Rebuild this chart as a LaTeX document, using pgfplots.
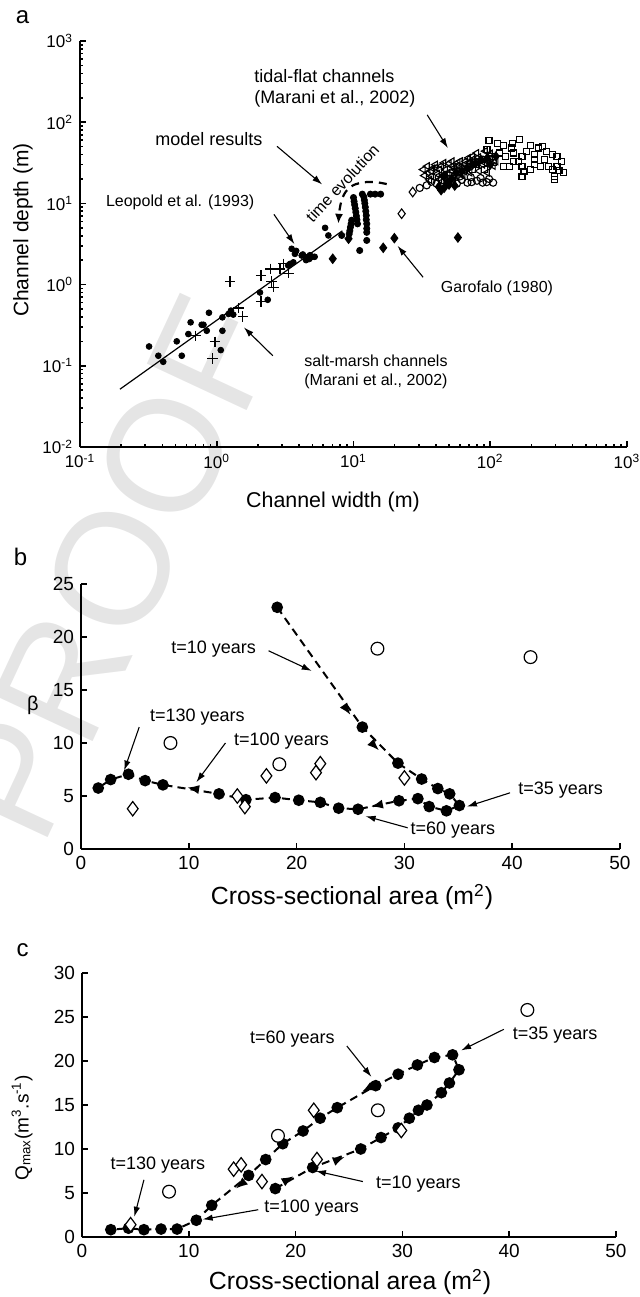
\documentclass[border=0pt]{standalone}
\usepackage{fontspec}
\setmainfont{Liberation Sans}
\usepackage{pgfplots}
\pgfplotsset{compat=1.18}
\usetikzlibrary{arrows.meta}

\newcommand{\fs}[1]{\fontsize{#1}{#1}\selectfont}

\pgfplotsset{
  panel/.style={
    scale only axis, anchor=south west, clip=false,
    axis x line*=bottom, axis y line*=left,
    axis line style={line width=1.1pt,-},
    tick align=inside,
    major tick length=3pt, minor tick length=1.6pt,
    every tick/.style={black, line width=0.8pt},
    /pgf/number format/assume math mode=true,
  },
  model/.style={black, line width=1pt, dash pattern=on 4pt off 2.6pt,
    mark=*, mark size=2.4pt, mark options={solid, fill=black}},
  field circ/.style={only marks, mark=*, mark size=3.2pt,
    mark options={fill=white, draw=black, line width=0.6pt}},
  field diam/.style={only marks, mark=diamond*, mark size=3.6pt,
    mark options={fill=white, draw=black, line width=0.6pt}},
}
\tikzset{
  flow/.style={-{Latex[length=6pt,width=4.6pt]}, black, line width=1pt},
  note/.style={-{Latex[length=5pt,width=3.2pt]}, black, line width=0.55pt},
}

\begin{document}
\begin{tikzpicture}
\path[use as bounding box] (0,0) rectangle (319.5pt,648.5pt);

% background watermark
\node[rotate=65, anchor=east, inner sep=0pt, text=black!10,
      font=\fontsize{80}{80}\selectfont] at (116.4pt,493.2pt) {PROOF};

% ---------------- panel a ----------------
\begin{axis}[panel, at={(40pt,425pt)}, width=273.5pt, height=203pt,
  xmode=log, ymode=log, xmin=0.1, xmax=1000, ymin=0.01, ymax=1000,
  xtick={0.1,1,10,100,1000}, ytick={0.01,0.1,1,10,100,1000},
  minor xtick={0.2,0.3,0.4,0.5,0.6,0.7,0.8,0.9,2,3,4,5,6,7,8,9,20,30,40,50,60,70,80,90,200,300,400,500,600,700,800,900},
  minor ytick={0.02,0.03,0.04,0.05,0.06,0.07,0.08,0.09,0.2,0.3,0.4,0.5,0.6,0.7,0.8,0.9,2,3,4,5,6,7,8,9,20,30,40,50,60,70,80,90,200,300,400,500,600,700,800,900},
  xticklabels={10\textsuperscript{-1},10\textsuperscript{0},10\textsuperscript{1},10\textsuperscript{2},10\textsuperscript{3}},
  yticklabels={10\textsuperscript{-2},10\textsuperscript{-1},10\textsuperscript{0},10\textsuperscript{1},10\textsuperscript{2},10\textsuperscript{3}},
  tick label style={font=\fs{8.5}},
]
% regression line
\addplot[black, line width=0.6pt] coordinates {(0.196,0.0515) (8.3,4.6)};

% Leopold et al. (1993)
\addplot[only marks, mark=*, mark size=1.45pt] coordinates {
 (0.32,0.173) (0.374,0.133) (0.406,0.112) (0.51,0.20) (0.555,0.133)
 (0.62,0.246) (0.644,0.343) (0.776,0.32) (0.80,0.32) (0.845,0.27)
 (0.877,0.45) (1.10,0.27) (1.10,0.395) (1.07,0.156) (1.22,0.435)
 (1.27,0.478) (1.32,0.427) (2.07,0.80) (2.36,0.65) (3.33,1.72)
 (3.63,1.88) (3.53,2.76) (3.73,2.39) (3.44,1.80) (4.18,2.28)
 (4.55,2.17) (4.75,2.07) (3.81,2.6) (4.26,2.35) (4.5,2.0)
 (4.8,2.3) (5.0,2.2) (5.2,2.2) (6.2,5.0) (6.55,4.03)};

% salt-marsh channels
\addplot[only marks, mark=+, mark size=2.6pt, mark options={line width=0.6pt}] coordinates {
 (1.25,1.09) (0.97,0.198) (0.93,0.123) (0.70,0.234) (1.44,0.515)
 (1.55,0.406) (2.11,1.29) (2.11,0.62) (2.48,1.56) (2.52,1.09)
 (2.60,0.93) (2.90,1.56) (3.07,1.80) (3.34,1.38)};

% model results
\addplot[only marks, mark=*, mark size=1.55pt] coordinates {
 (8.2,4.03)
 (9.3,4.2) (9.4,4.6) (9.5,5.1) (9.6,5.6) (9.7,6.2)
 (10.0,11.8) (10.1,10.6) (10.2,9.6) (10.3,8.7) (10.4,7.8) (10.5,7.0) (10.6,6.3) (10.7,5.6)
 (11.6,13.0) (11.9,12.0) (12.0,11.0) (12.1,10.0) (12.2,9.0) (12.3,8.0)
 (12.4,7.1) (12.4,6.3) (12.5,5.6) (12.5,4.9) (12.5,4.4)
 (13.3,13.0) (14.4,13.0) (15.8,13.0)
 (12.5,3.5) (11.1,2.63)};

% Garofalo (1980)
\addplot[only marks, mark=diamond*, mark size=2.4pt] coordinates {
 (7.05,2.08) (9.2,3.67) (16.5,2.84) (19.9,3.73) (58,3.8)};
\addplot[only marks, mark=diamond, mark size=2.4pt, mark options={line width=0.55pt}] coordinates {
 (27.1,13.8) (22.5,7.46)};

% tidal-flat channels
\addplot[only marks, mark=square, mark size=1.5pt, mark options={line width=0.55pt}] coordinates {
 (97.9,59.6) (112.5,55.3) (124.7,51.8) (146.5,55.3) (164.8,60.8)
 (143.5,48.1) (195.9,51.8) (224.9,48.1) (241.5,50.4) (209.9,39.8)
 (258.8,43.7) (287.1,39.8) (307.6,38.0) (329.6,33.0) (307.6,28.7)
 (287.1,26.1) (318.4,25.6) (341.2,23.8) (297.2,21.6) (297.2,19.7)
 (209.9,34.6) (209.9,30.0) (170.6,28.7) (176.6,24.9) (170.6,21.6)
 (148.6,33.0) (138.6,28.7) (129.1,38.0) (116.4,41.7) (101.4,38.0)
 (94.6,45.8) (88.3,34.6) (79.6,30.0) (74.2,26.1) (124.7,28.7)
 (195.9,26.1) (232.8,28.7) (267.9,28.7) (105.0,31.5) (91.4,26.1)
 (170.6,38.0) (148.6,41.7) (185,44) (250,35) (160,33)};
\addplot[only marks, mark=triangle, mark size=2pt, mark options={rotate=90, line width=0.55pt}] coordinates {
 (32.3,26.1) (34.6,28.7) (37.1,24.9) (39.7,30.0) (42.6,26.1)
 (45.7,31.5) (49.0,23.8) (52.5,28.7) (56.2,25.6) (60.3,33.0)
 (64.6,30.0) (69.2,36.3) (74.2,38.0) (79.6,41.7) (85.3,34.6)
 (91.4,31.5) (37.1,21.6) (42.6,19.7) (49.0,18.8) (56.2,21.6)
 (64.6,24.9) (45.7,22.5) (52.5,33.0) (69.2,28.7) (79.6,30.0)
 (60.3,23.8) (40.0,27.5) (58.0,29.0) (72.0,32.0)
 (33,22) (35,24) (38,27) (41,23) (44,29) (47,26) (50,31) (53,25)
 (55,27.5) (58,32) (62,27) (66,33) (70,29) (75,35) (82,37) (88,30)
 (95,33) (100,36) (105,29) (110,33) (36,19.5) (47,20.5) (54,19.5)
 (63,22) (71,24) (83,25) (95,24) (100,41) (92,44)};
\addplot[only marks, mark=o, mark size=1.8pt, mark options={line width=0.55pt}] coordinates {
 (34.3,16.7) (37.1,18.5) (40.5,17.5) (44.0,19.2) (49.3,19.2)
 (52.0,18.8) (57.0,17.5) (62.0,19.5) (68.0,18.0) (73.1,18.3)
 (80.0,19.0) (88.0,18.0) (94.2,18.3) (105,18.0) (60,21.5)
 (50,22.0) (42,21.0) (72,21.0) (30.5,15.5) (85,20.5) (98,20)};
\addplot[only marks, mark=diamond*, mark size=2.3pt] coordinates {
 (43.7,14.5) (45.7,21.6) (56.2,23.8) (74.2,30.0) (85.3,34.6) (50.0,17.0)
 (48,17.5) (52,20) (62,25) (68,27) (78,31) (95,36) (100,30) (110,38)
 (42,16) (55,16.5) (46,15.5)};

% time-evolution arc
\addplot[black, line width=1.1pt, dash pattern=on 4pt off 3pt, smooth,
  -{Latex[length=5pt,width=4pt]}] coordinates {
 (17.5,17.3) (14.5,18.3) (12.0,18.2) (10.0,16.8) (8.8,14.0) (8.2,11.0) (7.9,8.2) (7.75,5.6)};

% annotations
\draw[note] (axis cs:34.6,123) -- (axis cs:49,48);
\draw[note] (axis cs:2.76,50.4) -- (axis cs:5.9,17.1);
\draw[note] (axis cs:2.62,7.33) -- (axis cs:3.7,3.15);
\draw[note] (axis cs:32.3,1.23) -- (axis cs:21.0,3.0);
\draw[note] (axis cs:2.57,0.133) -- (axis cs:1.58,0.297);

\node[font=\fontsize{9}{10.5}\selectfont, align=left] at (axis cs:7.3,259)
  {tidal-flat channels\\(Marani et al., 2002)};
\node[font=\fs{9}] at (axis cs:0.877,62) {model results};
\node[font=\fs{8}] at (axis cs:0.54,10.2) {Leopold et al. (1993)};
\node[font=\fs{8}] at (axis cs:112,0.90) {Garofalo (1980)};
\node[font=\fontsize{8}{9.5}\selectfont, align=left] at (axis cs:14.6,0.085)
  {salt-marsh channels\\(Marani et al., 2002)};
\node[font=\fs{8}, rotate=47] at (axis cs:8.3,17.8) {time evolution};
\end{axis}

% ---------------- panel b ----------------
\begin{axis}[panel, at={(40.5pt,224pt)}, width=269.5pt, height=132.5pt,
  xmin=0, xmax=50, ymin=0, ymax=25,
  xtick={0,10,...,50}, ytick={0,5,...,25},
  tick label style={font=\fs{9.5}},
]
\addplot[model] coordinates {
 (18.2,22.8) (26.1,11.5) (29.4,8.1) (31.6,6.6) (33.1,5.7) (34.2,5.2)
 (35.1,4.1) (33.9,3.6) (32.3,4.0) (31.25,4.75) (29.5,4.55) (25.7,3.75)
 (23.9,3.85) (22.2,4.4) (20.2,4.6) (18.0,4.85) (15.3,4.65) (12.8,5.2)
 (7.6,6.05) (5.95,6.45) (4.4,7.05) (2.75,6.55) (1.6,5.75)};
\addplot[flow] coordinates {(24.55,13.3) (25.0,12.65)};
\addplot[flow] coordinates {(27.2,9.76) (27.65,9.3)};
\addplot[flow] coordinates {(10.6,5.67) (9.85,5.8)};
\addplot[flow] coordinates {(27.6,4.15) (26.9,4.0)};

\addplot[field circ] coordinates {(8.3,10.0) (18.4,8.0) (27.5,18.9) (41.7,18.1)};
\addplot[field diam] coordinates {
 (4.8,3.8) (14.5,5.0) (15.2,4.0) (17.2,6.9) (21.8,7.2) (22.2,8.05) (30.0,6.7)};

\draw[note] (axis cs:17.4,18.7) -- (axis cs:21.4,16.8);
\draw[note] (axis cs:5.4,11.5) -- (axis cs:4.0,7.4);
\draw[note] (axis cs:13.4,10.0) -- (axis cs:10.7,6.3);
\draw[note] (axis cs:39.8,5.3) -- (axis cs:35.8,4.0);
\draw[note] (axis cs:30.3,2.0) -- (axis cs:26.4,3.1);

\node[font=\fs{9}] at (axis cs:12.3,18.9) {t=10 years};
\node[font=\fs{9}] at (axis cs:10.8,12.4) {t=130 years};
\node[font=\fs{9}] at (axis cs:18.6,10.2) {t=100 years};
\node[font=\fs{9}] at (axis cs:44.5,5.6) {t=35 years};
\node[font=\fs{9}] at (axis cs:34.5,1.8) {t=60 years};
\end{axis}

% ---------------- panel c ----------------
\begin{axis}[panel, at={(41pt,30pt)}, width=267pt, height=132pt,
  xmin=0, xmax=50, ymin=0, ymax=30,
  xtick={0,10,...,50}, ytick={0,5,...,30},
  tick label style={font=\fs{9.5}},
]
\addplot[model] coordinates {
 (18.1,5.5) (21.6,7.9) (26.1,10.0) (28.0,11.3) (29.6,12.4) (30.65,13.5)
 (31.5,14.4) (32.3,15.0) (33.65,16.4) (34.4,17.5) (35.3,19.0) (34.7,20.7)
 (33.0,20.4) (31.4,19.55) (29.6,18.5) (27.5,17.2) (23.9,14.7) (22.3,13.5)
 (20.7,12.05) (18.8,10.6) (17.2,8.8) (15.6,7.0) (12.15,3.6) (10.7,1.9)
 (8.9,0.9) (7.4,0.9) (5.8,0.83) (4.35,1.0) (2.7,0.83)};
\addplot[flow] coordinates {(19.3,6.55) (19.8,6.9)};
\addplot[flow] coordinates {(24.0,8.8) (24.6,9.1)};
\addplot[flow] coordinates {(26.8,16.9) (26.2,16.5)};
\addplot[flow] coordinates {(14.9,6.0) (14.4,5.5)};

\addplot[field circ] coordinates {(8.15,5.15) (18.35,11.5) (27.7,14.4) (41.7,25.8)};
\addplot[field diam] coordinates {
 (4.55,1.4) (14.2,7.7) (14.9,8.2) (16.85,6.3) (21.7,14.4) (22.0,8.8) (29.9,12.1)};

\draw[note] (axis cs:5.8,6.5) -- (axis cs:4.9,2.3);
\draw[note] (axis cs:24.8,21.7) -- (axis cs:27.1,18.2);
\draw[note] (axis cs:39.5,23.6) -- (axis cs:35.5,21.2);
\draw[note] (axis cs:26.3,6.3) -- (axis cs:21.9,7.5);
\draw[note] (axis cs:16.5,3.1) -- (axis cs:11.3,2.0);

\node[font=\fs{9}] at (axis cs:7.1,8.2) {t=130 years};
\node[font=\fs{9}] at (axis cs:19.7,22.5) {t=60 years};
\node[font=\fs{9}] at (axis cs:44.3,22.9) {t=35 years};
\node[font=\fs{9}] at (axis cs:31.5,6.0) {t=10 years};
\node[font=\fs{9}] at (axis cs:21.5,3.3) {t=100 years};
\end{axis}

% panel letters and axis titles
\node[font=\fs{12}] at (11.3pt,640pt) {a};
\node[font=\fs{12}] at (10.3pt,370pt) {b};
\node[font=\fs{12}] at (11.3pt,173.5pt) {c};

\node[font=\fs{10.7}] at (166.5pt,397.5pt) {Channel width (m)};
\node[font=\fs{10.5}, rotate=90] at (11.5pt,533.5pt) {Channel depth (m)};
\node[font=\fs{12.4}] at (176pt,200pt) {Cross-sectional area (m\textsuperscript{2})};
\node[font=\fs{10}] at (16.5pt,296pt) {β};
\node[font=\fs{12.4}] at (175pt,7.5pt) {Cross-sectional area (m\textsuperscript{2})};
\node[font=\fs{9.5}, rotate=90] at (11pt,84.5pt) {Q\textsubscript{max}(m\textsuperscript{3}.s\textsuperscript{-1})};
\end{tikzpicture}
\end{document}
